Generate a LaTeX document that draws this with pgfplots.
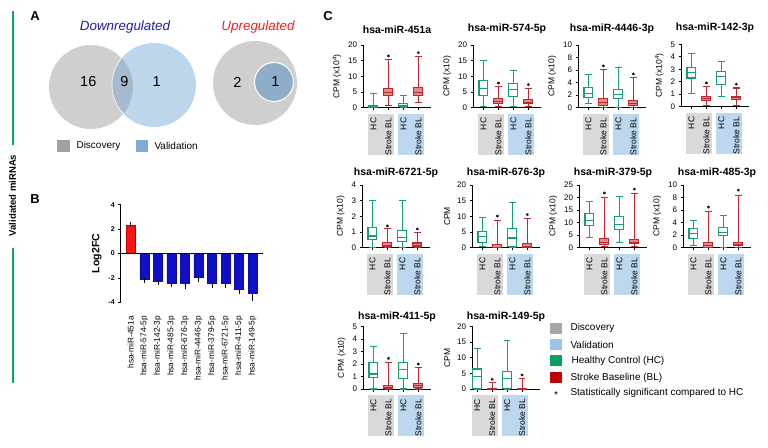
\documentclass[border=0pt]{standalone}
\usepackage{fontspec}
\setmainfont{Liberation Sans}
\usepackage{pgfplots}
\pgfplotsset{compat=1.18}
\usepgfplotslibrary{statistics}
\definecolor{hcg}{RGB}{22,158,108}
\definecolor{blr}{RGB}{192,38,44}
\definecolor{blfill}{RGB}{224,140,140}
\definecolor{discg}{RGB}{217,217,217}
\definecolor{valb}{RGB}{189,215,238}
\definecolor{venngrey}{RGB}{207,207,207}
\definecolor{vennblue}{RGB}{189,214,236}
\definecolor{vennover}{RGB}{166,186,206}
\definecolor{venninner}{RGB}{143,172,201}
\definecolor{legdisc}{RGB}{160,160,166}
\definecolor{legval}{RGB}{125,172,212}
\definecolor{legdiscC}{RGB}{165,165,170}
\definecolor{legvalC}{RGB}{157,195,230}
\definecolor{leghc}{RGB}{10,160,100}
\definecolor{legbl}{RGB}{192,0,0}
\definecolor{gline}{RGB}{0,176,80}
\definecolor{barred}{RGB}{255,20,20}
\definecolor{barblue}{RGB}{16,16,200}
\definecolor{downblue}{RGB}{30,30,170}
\definecolor{upred}{RGB}{240,30,30}

\pgfplotsset{
 cpanel/.style={scale only axis, width=68pt, height=62.5pt, anchor=south west,
   xmin=0.3, xmax=4.85, ymin=0,
   axis x line=bottom, axis y line=left, axis line style={-, line width=1pt},
   tick align=outside, major tick length=2.5pt,
   xtick={1,2,3,4}, xticklabels={HC,Stroke BL,HC,Stroke BL},
   x tick label style={yshift=-4pt, rotate=90, anchor=east, font=\fontsize{8.5}{9}\selectfont},
   y tick label style={font=\fontsize{8}{8}\selectfont},
   tick style={black, line width=0.8pt},
   /pgf/number format/assume math mode=true,
   ylabel style={font=\fontsize{8.5}{9}\selectfont},
   title style={font=\bfseries\fontsize{10.5}{11}\selectfont},
   boxplot/draw direction=y,
   clip=false},
 hc/.style={draw=hcg, line width=1.05pt, solid, boxplot/draw direction=y, boxplot/box extend=0.6, boxplot/whisker extend=0.45, boxplot/every box/.style={fill=white}},
 bl/.style={draw=blr, line width=1.05pt, solid, boxplot/draw direction=y, boxplot/box extend=0.6, boxplot/whisker extend=0.45, boxplot/every box/.style={fill=blfill}},
 sigstar/.style={only marks, mark=asterisk, mark size=1.5pt, black, mark options={line width=0.5pt}},
}
% label backgrounds under the x tick labels (left edge L, bottom B of an axis)
\newcommand{\lrects}[3][5.23]{%
 \fill[discg] ({#2+#1},{#3-6.5}) rectangle ({#2+#1+26.15},{#3-47});
 \fill[valb] ({#2+#1+29.89},{#3-6.5}) rectangle ({#2+#1+56.04},{#3-47});}

\begin{document}
\begin{tikzpicture}[x=1pt,y=1pt]
\useasboundingbox (0,0) rectangle (768,447);

% ---------- left side decorations ----------
\draw[gline, line width=2pt] (12.7,436) -- (12.7,302);
\draw[gline, line width=2pt] (12.7,199) -- (12.7,64);
\node[rotate=90, font=\bfseries\fontsize{9.5}{10}\selectfont] at (12.5,251.5) {Validated miRNAs};
\node[font=\bfseries\fontsize{13}{13}\selectfont] at (35,431) {A};
\node[font=\bfseries\fontsize{13}{13}\selectfont] at (35,248) {B};
\node[font=\bfseries\fontsize{13}{13}\selectfont] at (328,430.5) {C};

% ---------- Panel A: Venn diagrams ----------
\node[font=\itshape\fontsize{13.4}{14}\selectfont, text=downblue] at (125,419.5) {Downregulated};
\node[font=\itshape\fontsize{13.4}{14}\selectfont, text=upred] at (258,419.5) {Upregulated};
\fill[venngrey] (91,360) circle (42);
\fill[vennblue] (154,362) circle (42);
\begin{scope}
\clip (91,360) circle (42);
\fill[vennover] (154,362) circle (42);
\draw[white, line width=0.6pt] (154,362) circle (42);
\end{scope}
\node[font=\fontsize{14.5}{15}\selectfont] at (88.3,365) {16};
\node[font=\fontsize{14.5}{15}\selectfont] at (124.3,365) {9};
\node[font=\fontsize{14.5}{15}\selectfont] at (156.7,365) {1};
\fill[venngrey] (255,364) circle (42);
\fill[venninner, draw=white, line width=1pt] (274,365) circle (19.5);
\node[font=\fontsize{14.5}{15}\selectfont] at (237.3,365) {2};
\node[font=\fontsize{14.5}{15}\selectfont] at (275.3,365) {1};
\fill[legdisc] (57.3,295.3) rectangle (70,307);
\node[anchor=west, font=\fontsize{10}{10}\selectfont] at (73,301) {Discovery};
\fill[legval] (136,295.3) rectangle (148.3,307);
\node[anchor=west, font=\fontsize{10}{10}\selectfont] at (151,301) {Validation};

% ---------- Panel B: Log2FC bars ----------
\begin{axis}[at={(120.7pt,144.7pt)}, anchor=south west, scale only axis,
  width=142.6pt, height=97.6pt, xmin=0.26, xmax=10.79, ymin=-4, ymax=4,
  axis y line=left, axis x line=bottom, x axis line style={draw=none},
  y axis line style={-, line width=1pt}, xtick style={draw=none},
  ytick={-4,-2,0,2,4}, y tick style={black, line width=0.8pt}, major tick length=2.5pt,
  tick align=outside,
  xtick={1,2,3,4,5,6,7,8,9,10},
  xticklabels={hsa-miR-451a,hsa-miR-574-5p,hsa-miR-142-3p,hsa-miR-485-3p,hsa-miR-676-3p,hsa-miR-4446-3p,hsa-miR-379-5p,hsa-miR-6721-5p,hsa-miR-411-5p,hsa-miR-149-5p},
  x tick label style={yshift=-8pt, rotate=90, anchor=east, font=\fontsize{8.3}{9}\selectfont},
  y tick label style={font=\bfseries\fontsize{7}{7}\selectfont},
  /pgf/number format/assume math mode=true,
  ylabel={Log2FC}, ylabel style={font=\bfseries\fontsize{10.5}{11}\selectfont},
  clip=false]
\addplot[ybar, bar width=9pt, bar shift=0pt, fill=barred, draw=red!75!black, line width=0.4pt,
  error bars/.cd, y dir=plus, y explicit, error bar style={black, line width=0.5pt}, error mark options={black, mark size=2.5pt, line width=0.5pt}]
  coordinates {(1,2.29) +- (0,0.12)};
\addplot[ybar, bar width=9pt, bar shift=0pt, fill=barblue, draw=barblue!80!black, line width=0.4pt,
  error bars/.cd, y dir=minus, y explicit, error bar style={black, line width=0.5pt}, error mark options={black, mark size=2.5pt, line width=0.5pt}]
  coordinates {(2,-2.12) +- (0,0.1) (3,-2.31) +- (0,0.05) (4,-2.40) +- (0,0.15) (5,-2.45) +- (0,0.25) (6,-1.96) +- (0,0.18) (7,-2.45) +- (0,0.15) (8,-2.47) +- (0,0.15) (9,-2.94) +- (0,0.2) (10,-3.29) +- (0,0.4)};
\addplot[black, line width=1pt] coordinates {(0.26,0) (10.79,0)};
\end{axis}

% ---------- label backgrounds, panel C ----------
\lrects{363}{339.3}
\lrects{473}{339.3}
\lrects{578}{339.3}
\lrects{681}{340.3}
\lrects{362}{199.3}
\lrects{472}{199.3}
\lrects{579}{199.3}
\lrects{683}{199.3}
\lrects{363}{58}
\lrects[0]{472}{58}

% ---------- Panel C: box plots, row 1 ----------
\begin{axis}[cpanel, at={(363pt,339.3pt)}, ymax=20, ytick={0,5,10,15,20}, ylabel={CPM (x10\textsuperscript{4})}, title={hsa-miR-451a}, title style={yshift=2pt}]
\addplot[hc, boxplot prepared={draw position=1, lower whisker=0, lower quartile=0.1, median=0.35, upper quartile=0.7, upper whisker=4.6}] coordinates {};
\addplot[bl, boxplot prepared={draw position=2, lower whisker=0.85, lower quartile=4.0, median=5.0, upper quartile=6.1, upper whisker=15.3}] coordinates {};
\addplot[hc, boxplot prepared={draw position=3, lower whisker=0, lower quartile=0.3, median=0.8, upper quartile=1.3, upper whisker=3.9}] coordinates {};
\addplot[bl, boxplot prepared={draw position=4, lower whisker=1.7, lower quartile=4.0, median=5.0, upper quartile=6.6, upper whisker=16.3}] coordinates {};
\addplot[sigstar] coordinates {(2,16.6) (4,17.6)};
\end{axis}

\begin{axis}[cpanel, at={(473pt,339.3pt)}, ymax=20, ytick={0,5,10,15,20}, ylabel={CPM (x10)}, title={hsa-miR-574-5p}, title style={yshift=2pt}]
\addplot[hc, boxplot prepared={draw position=1, lower whisker=0.3, lower quartile=4.0, median=6.2, upper quartile=8.7, upper whisker=15.2}] coordinates {};
\addplot[bl, boxplot prepared={draw position=2, lower whisker=0.3, lower quartile=1.2, median=2.0, upper quartile=2.8, upper whisker=6.7}] coordinates {};
\addplot[hc, boxplot prepared={draw position=3, lower whisker=0.5, lower quartile=3.5, median=5.7, upper quartile=7.8, upper whisker=11.8}] coordinates {};
\addplot[bl, boxplot prepared={draw position=4, lower whisker=0.3, lower quartile=1.2, median=1.8, upper quartile=2.5, upper whisker=6.2}] coordinates {};
\addplot[sigstar] coordinates {(2,7.9) (4,7.4)};
\end{axis}

\begin{axis}[cpanel, at={(578pt,339.3pt)}, ymax=10, ytick={0,2,4,6,8,10}, ylabel={CPM (x10)}, title={hsa-miR-4446-3p}, title style={yshift=2pt}]
\addplot[hc, boxplot prepared={draw position=1, lower whisker=0.7, lower quartile=1.6, median=2.3, upper quartile=3.2, upper whisker=5.3}] coordinates {};
\addplot[bl, boxplot prepared={draw position=2, lower whisker=0.1, lower quartile=0.4, median=0.8, upper quartile=1.4, upper whisker=6.1}] coordinates {};
\addplot[hc, boxplot prepared={draw position=3, lower whisker=0.1, lower quartile=1.4, median=2.1, upper quartile=2.9, upper whisker=6.4}] coordinates {};
\addplot[bl, boxplot prepared={draw position=4, lower whisker=0.05, lower quartile=0.3, median=0.7, upper quartile=1.1, upper whisker=4.8}] coordinates {};
\addplot[sigstar] coordinates {(2,6.7) (4,5.4)};
\end{axis}

\begin{axis}[cpanel, at={(681pt,340.3pt)}, height=62.4pt, ymax=5, ytick={0,1,2,3,4,5}, ylabel={CPM (x10\textsuperscript{4})}, title={hsa-miR-142-3p}, title style={yshift=2pt}]
\addplot[hc, boxplot prepared={draw position=1, lower whisker=1.05, lower quartile=2.3, median=2.75, upper quartile=3.15, upper whisker=4.3}] coordinates {};
\addplot[bl, boxplot prepared={draw position=2, lower whisker=0.1, lower quartile=0.5, median=0.65, upper quartile=0.8, upper whisker=1.6}] coordinates {};
\addplot[hc, boxplot prepared={draw position=3, lower whisker=0.8, lower quartile=1.75, median=2.45, upper quartile=2.8, upper whisker=3.6}] coordinates {};
\addplot[bl, boxplot prepared={draw position=4, lower whisker=0.1, lower quartile=0.55, median=0.7, upper quartile=0.85, upper whisker=1.5}] coordinates {};
\addplot[sigstar] coordinates {(2,1.9) (4,1.8)};
\end{axis}

% ---------- row 2 ----------
\begin{axis}[cpanel, at={(362pt,199.3pt)}, ymax=4, ytick={0,1,2,3,4}, ylabel={CPM (x10)}, title={hsa-miR-6721-5p}, title style={yshift=-2pt}]
\addplot[hc, boxplot prepared={draw position=1, lower whisker=0, lower quartile=0.5, median=0.75, upper quartile=1.3, upper whisker=3.05}] coordinates {};
\addplot[bl, boxplot prepared={draw position=2, lower whisker=0, lower quartile=0.05, median=0.15, upper quartile=0.35, upper whisker=1.2}] coordinates {};
\addplot[hc, boxplot prepared={draw position=3, lower whisker=0, lower quartile=0.4, median=0.65, upper quartile=1.1, upper whisker=3.05}] coordinates {};
\addplot[bl, boxplot prepared={draw position=4, lower whisker=0, lower quartile=0.05, median=0.15, upper quartile=0.3, upper whisker=1.0}] coordinates {};
\addplot[sigstar] coordinates {(2,1.4) (4,1.2)};
\end{axis}

\begin{axis}[cpanel, at={(472pt,199.3pt)}, ymax=20, ytick={0,5,10,15,20}, ylabel={CPM}, title={hsa-miR-676-3p}, title style={yshift=-2pt}]
\addplot[hc, boxplot prepared={draw position=1, lower whisker=0.3, lower quartile=1.8, median=3.5, upper quartile=5.3, upper whisker=9.6}] coordinates {};
\addplot[bl, boxplot prepared={draw position=2, lower whisker=0, lower quartile=0, median=0.2, upper quartile=1.0, upper whisker=8.8}] coordinates {};
\addplot[hc, boxplot prepared={draw position=3, lower whisker=0.2, lower quartile=0.3, median=3.1, upper quartile=6.0, upper whisker=14.6}] coordinates {};
\addplot[bl, boxplot prepared={draw position=4, lower whisker=0, lower quartile=0, median=0.3, upper quartile=1.3, upper whisker=9.3}] coordinates {};
\addplot[sigstar] coordinates {(2,10.1) (4,10.6)};
\end{axis}

\begin{axis}[cpanel, at={(579pt,199.3pt)}, ymax=25, ytick={0,5,10,15,20,25}, ylabel={CPM (x10)}, title={hsa-miR-379-5p}, title style={yshift=-2pt}]
\addplot[hc, boxplot prepared={draw position=1, lower whisker=4.1, lower quartile=8.7, median=11.0, upper quartile=13.5, upper whisker=18.4}] coordinates {};
\addplot[bl, boxplot prepared={draw position=2, lower whisker=0.5, lower quartile=1.4, median=2.2, upper quartile=3.6, upper whisker=20.2}] coordinates {};
\addplot[hc, boxplot prepared={draw position=3, lower whisker=2.1, lower quartile=7.3, median=9.1, upper quartile=12.5, upper whisker=20.6}] coordinates {};
\addplot[bl, boxplot prepared={draw position=4, lower whisker=0.5, lower quartile=1.5, median=2.2, upper quartile=3.2, upper whisker=21.7}] coordinates {};
\addplot[sigstar] coordinates {(2,21.9) (4,23.4)};
\end{axis}

\begin{axis}[cpanel, at={(683pt,199.3pt)}, ymax=10, ytick={0,2,4,6,8,10}, ylabel={CPM (x10)}, title={hsa-miR-485-3p}, title style={yshift=-2pt}]
\addplot[hc, boxplot prepared={draw position=1, lower whisker=0.3, lower quartile=1.5, median=2.2, upper quartile=3.1, upper whisker=4.4}] coordinates {};
\addplot[bl, boxplot prepared={draw position=2, lower whisker=0, lower quartile=0.1, median=0.4, upper quartile=0.8, upper whisker=5.8}] coordinates {};
\addplot[hc, boxplot prepared={draw position=3, lower whisker=0, lower quartile=1.9, median=2.4, upper quartile=3.3, upper whisker=5.2}] coordinates {};
\addplot[bl, boxplot prepared={draw position=4, lower whisker=0, lower quartile=0.3, median=0.55, upper quartile=0.9, upper whisker=8.4}] coordinates {};
\addplot[sigstar] coordinates {(2,6.5) (4,9.2)};
\end{axis}

% ---------- row 3 ----------
\begin{axis}[cpanel, at={(363pt,58pt)}, ymax=5, ytick={0,1,2,3,4,5}, ylabel={CPM (x10)}, title={hsa-miR-411-5p}, title style={yshift=-5pt}]
\addplot[hc, boxplot prepared={draw position=1, lower whisker=0, lower quartile=0.9, median=1.2, upper quartile=2.15, upper whisker=3.4}] coordinates {};
\addplot[bl, boxplot prepared={draw position=2, lower whisker=0, lower quartile=0.05, median=0.15, upper quartile=0.3, upper whisker=2.15}] coordinates {};
\addplot[hc, boxplot prepared={draw position=3, lower whisker=0, lower quartile=0.85, median=1.55, upper quartile=2.15, upper whisker=4.45}] coordinates {};
\addplot[bl, boxplot prepared={draw position=4, lower whisker=0, lower quartile=0.1, median=0.25, upper quartile=0.45, upper whisker=1.7}] coordinates {};
\addplot[sigstar] coordinates {(2,2.45) (4,2.0)};
\end{axis}

\begin{axis}[cpanel, at={(472pt,58pt)}, xmin=0.65, xmax=5.2, ymax=20, ytick={0,5,10,15,20}, ylabel={CPM}, title={hsa-miR-149-5p}, title style={yshift=-5pt}]
\addplot[hc, boxplot prepared={draw position=1, lower whisker=0, lower quartile=0.1, median=4.1, upper quartile=6.4, upper whisker=12.9}] coordinates {};
\addplot[bl, boxplot prepared={draw position=2, lower whisker=0, lower quartile=0, median=0.1, upper quartile=0.3, upper whisker=2.0}] coordinates {};
\addplot[hc, boxplot prepared={draw position=3, lower whisker=0, lower quartile=0.2, median=3.3, upper quartile=5.7, upper whisker=15.4}] coordinates {};
\addplot[bl, boxplot prepared={draw position=4, lower whisker=0, lower quartile=0, median=0.1, upper quartile=0.2, upper whisker=3.4}] coordinates {};
\addplot[sigstar] coordinates {(2,3.1) (4,4.5)};
\end{axis}

% ---------- Panel C legend ----------
\fill[legdiscC] (550,113.2) rectangle (562,124.2);
\node[anchor=west, font=\fontsize{10}{10}\selectfont] at (567,118.7) {Discovery};
\fill[legvalC] (550,96.8) rectangle (562,107.8);
\node[anchor=west, font=\fontsize{10}{10}\selectfont] at (567,102.3) {Validation};
\fill[leghc] (550,80.5) rectangle (562,91.5);
\node[anchor=west, font=\fontsize{10}{10}\selectfont] at (568,86) {Healthy Control (HC)};
\fill[legbl] (550,63.5) rectangle (562,74.5);
\node[anchor=west, font=\fontsize{10}{10}\selectfont] at (567,69) {Stroke Baseline (BL)};
\node[font=\fontsize{10}{10}\selectfont] at (556,51.5) {*};
\node[anchor=west, font=\fontsize{10}{10}\selectfont] at (567,53.7) {Statistically significant compared to HC};
\end{tikzpicture}
\end{document}
